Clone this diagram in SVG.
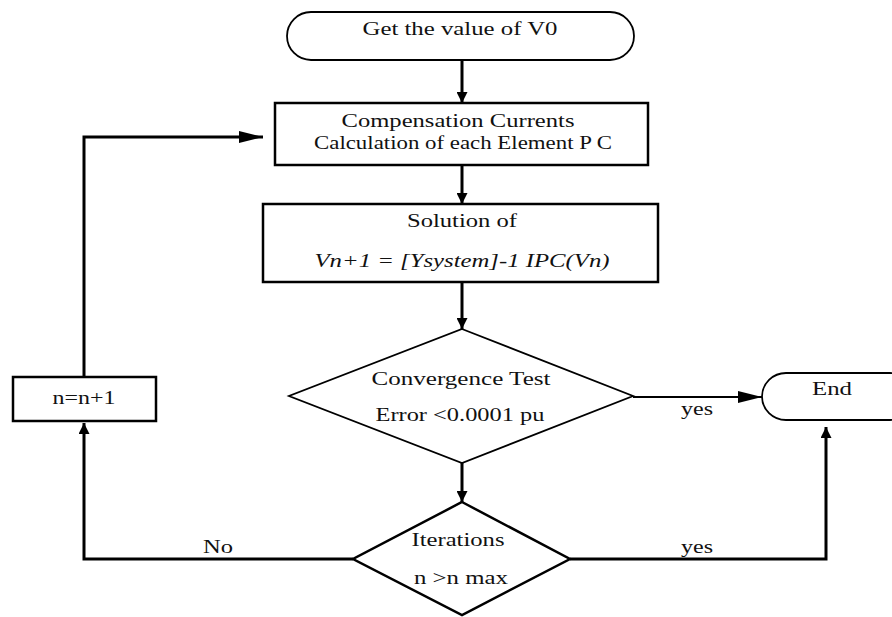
<svg xmlns="http://www.w3.org/2000/svg" width="892" height="617" viewBox="0 0 892 617">
<style>
.t{font-family:"Liberation Serif","Times New Roman",serif;font-size:18px;fill:#111;text-anchor:middle}
.i{font-style:italic}
.box{fill:#fff;stroke:#000;stroke-width:2.5}
.thin{fill:#fff;stroke:#000;stroke-width:1.8}
.c{fill:none;stroke:#000;stroke-width:3}
.c2{fill:none;stroke:#000;stroke-width:2.2}
</style>
<defs>
<marker id="a" viewBox="0 0 10 10" refX="10" refY="5" markerWidth="11" markerHeight="11" markerUnits="userSpaceOnUse" orient="auto">
<path d="M0,0 L10,5 L0,10 Z" fill="#000"/>
</marker>
<marker id="b" viewBox="0 0 10 10" refX="10" refY="5" markerWidth="24" markerHeight="12" markerUnits="userSpaceOnUse" orient="auto" preserveAspectRatio="none">
<path d="M0,0 L10,5 L0,10 Z" fill="#000"/>
</marker>
</defs>
<g id="connectors">
<line class="c" x1="462" y1="60" x2="462" y2="103" marker-end="url(#a)"/>
<line class="c" x1="462" y1="165" x2="462" y2="204" marker-end="url(#a)"/>
<line class="c" x1="462" y1="282" x2="462" y2="329" marker-end="url(#a)"/>
<line class="c" x1="462" y1="463" x2="462" y2="502" marker-end="url(#a)"/>
<line class="c2" x1="633" y1="397" x2="762" y2="397" marker-end="url(#b)"/>
<polyline class="c" points="84,377 84,137 263,137" marker-end="url(#b)"/>
<polyline class="c" points="353,559 84,559 84,423" marker-end="url(#a)"/>
<polyline class="c" points="570,559 826,559 826,427" marker-end="url(#a)"/>
<text class="t" x="697" y="415" textLength="32" lengthAdjust="spacingAndGlyphs">yes</text>
<text class="t" x="218" y="553" textLength="30" lengthAdjust="spacingAndGlyphs">No</text>
<text class="t" x="697" y="553" textLength="32" lengthAdjust="spacingAndGlyphs">yes</text>
</g>
<g id="start">
<rect class="thin" x="287" y="12" width="347" height="48" rx="24" ry="24"/>
<text class="t" x="460" y="35" textLength="195" lengthAdjust="spacingAndGlyphs">Get the value of V0</text>
</g>
<g id="compensation">
<rect class="box" x="275" y="103" width="373" height="62"/>
<text class="t" x="458" y="127" textLength="233" lengthAdjust="spacingAndGlyphs">Compensation Currents</text>
<text class="t" x="463" y="149" textLength="298" lengthAdjust="spacingAndGlyphs">Calculation of each Element P C</text>
</g>
<g id="solution">
<rect class="box" x="263" y="204" width="395" height="78"/>
<text class="t" x="462" y="227" textLength="110" lengthAdjust="spacingAndGlyphs">Solution of</text>
<text class="t i" x="462" y="267" textLength="295" lengthAdjust="spacingAndGlyphs">Vn+1 = [Ysystem]-1 IPC(Vn)</text>
</g>
<g id="convergence">
<polygon class="thin" points="462,329 633,396 462,463 289,396"/>
<text class="t" x="461" y="385" textLength="179" lengthAdjust="spacingAndGlyphs">Convergence Test</text>
<text class="t" x="460" y="421" textLength="169" lengthAdjust="spacingAndGlyphs">Error &lt;0.0001 pu</text>
</g>
<g id="increment">
<rect class="box" x="13" y="377" width="143" height="44"/>
<text class="t" x="84" y="404" textLength="63" lengthAdjust="spacingAndGlyphs">n=n+1</text>
</g>
<g id="end">
<rect class="thin" x="762" y="373" width="152" height="47" rx="24" ry="24"/>
<text class="t" x="832" y="395" textLength="40" lengthAdjust="spacingAndGlyphs">End</text>
</g>
<g id="iterations">
<polygon class="box" points="462,502 570,559 462,615 353,559"/>
<text class="t" x="458" y="546" textLength="93" lengthAdjust="spacingAndGlyphs">Iterations</text>
<text class="t" x="461" y="584" textLength="94" lengthAdjust="spacingAndGlyphs">n &gt;n max</text>
</g>
</svg>
